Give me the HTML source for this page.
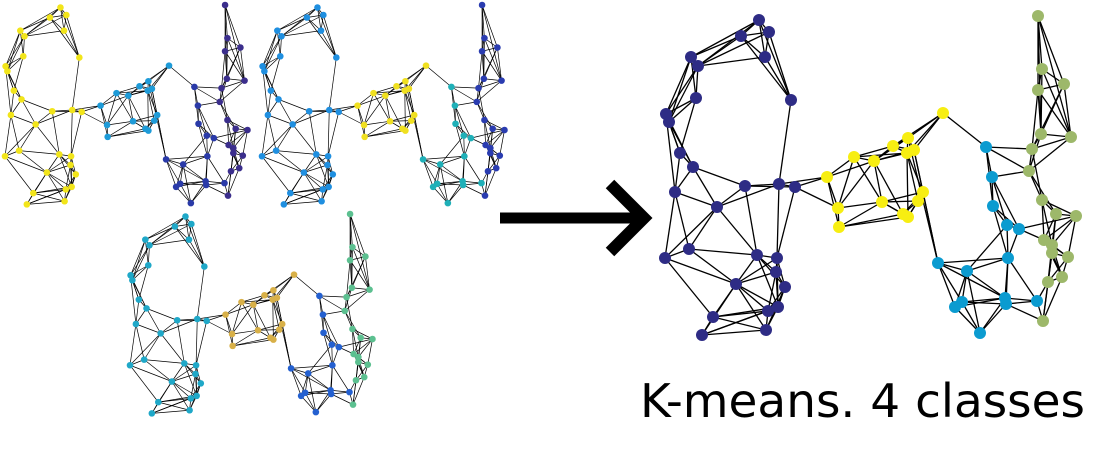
<!DOCTYPE html>
<html><head><meta charset="utf-8"><style>
html,body{margin:0;padding:0;background:#fff;width:1100px;height:450px;overflow:hidden}
</style></head><body>
<svg id="chart" width="1100" height="450" viewBox="0 0 1100 450" xmlns="http://www.w3.org/2000/svg">
<g id="edges-layer"></g><g id="nodes-layer"></g>
<g>
<line x1="500" y1="218" x2="640" y2="218" stroke="#000" stroke-width="11"/>
<polyline points="610,184 644,218 610,252" fill="none" stroke="#000" stroke-width="12"/>
</g>
<text x="640" y="417" font-family="DejaVu Sans, Liberation Sans, sans-serif" font-size="46" textLength="445" lengthAdjust="spacingAndGlyphs">K-means. 4 classes</text>
</svg>
<script>
// node layout (x, y in layout units) and cluster label
const nodeX=[759,769,741,691,698,765,696,791,666,669,680,693,675,717,745,779,795,665,689,757,777,776,785,736,713,768,778,702,766,
827,854,874,893,908,907,914,943,838,839,882,903,908,923,918,
986,992,993,1007,1019,1008,938,967,962,955,1005,1006,1037,980,
1038,1042,1064,1038,1041,1071,1032,1029,1042,1056,1076,1044,1052,1052,1068,1062,1048,1043];
const nodeY=[20,32,36,57,66,57,98,100,114,122,153,167,192,207,186,184,187,258,249,255,258,272,287,284,317,311,307,335,330,
177,157,161,146,138,153,150,113,208,227,202,214,217,192,201,
147,177,206,225,229,258,263,271,302,307,298,304,301,333,
16,69,84,90,134,137,149,171,200,214,216,240,245,253,257,277,282,321];
const nodeClass=[0,0,0,0,0,0,0,0,0,0,0,0,0,0,0,0,0,0,0,0,0,0,0,0,0,0,0,0,0,
1,1,1,1,1,1,1,1,1,1,1,1,1,1,1,
2,2,2,2,2,2,2,2,2,2,2,2,2,2,
3,3,3,3,3,3,3,3,3,3,3,3,3,3,3,3,3,3];
const extraEdges=[[16,29],[36,44],[36,32],[36,33],[33,50],[35,50],[42,50],[65,45],[68,48],[60,58],[61,58],[58,62],[3,2],[4,6],[5,7],[8,12],[14,15],[15,16]];
// palette per panel indexed by cluster
const panelPalettes=[
 ["#2e2c85","#f7ee12","#0b9bd0","#9db86a"],
 ["#f2e51a","#1e9bd8","#2a3aa8","#3b2e8c"],
 ["#1f8fe0","#f0e020","#1fb0b8","#2a3cb0"],
 ["#1fa8c8","#d8b048","#2460d0","#5cc090"]];
const panels=[{ox:665,oy:16,sx:1,sy:1,ax:665,ay:16,r:6,w:1.3},
 {ox:5,oy:5,sx:0.59,sy:0.625,ax:665,ay:16,r:3.3,w:0.7},
 {ox:262,oy:5,sx:0.59,sy:0.625,ax:665,ay:16,r:3.3,w:0.7},
 {ox:130,oy:214,sx:0.59,sy:0.625,ax:665,ay:16,r:3.3,w:0.7}];
const panelOrder=[0,1,2,3];

const NS="http://www.w3.org/2000/svg";
const E=document.getElementById('edges-layer'),N=document.getElementById('nodes-layer');
// edges: k nearest neighbours
const n=nodeX.length,edges=[];const seen=new Set();
function add(a,b){const k=a<b?a+'-'+b:b+'-'+a;if(!seen.has(k)){seen.add(k);edges.push([a,b]);}}
for(let i=0;i<n;i++){const d=[];for(let j=0;j<n;j++)if(j!==i)d.push([Math.hypot(nodeX[i]-nodeX[j],nodeY[i]-nodeY[j])+(nodeClass[i]===nodeClass[j]?0:25),j]);
 d.sort((a,b)=>a[0]-b[0]);for(let k=0;k<5;k++)add(i,d[k][1]);}
extraEdges.forEach(e=>add(e[0],e[1]));
panelOrder.forEach(p=>{const P=panels[p];const pal=panelPalettes[p];
 const xs=v=>P.ox+(v-P.ax)*P.sx, ys=v=>P.oy+(v-P.ay)*P.sy;
 edges.forEach(([a,b])=>{const l=document.createElementNS(NS,'line');
  
  
  l.setAttribute('x1',xs(nodeX[a]));l.setAttribute('y1',ys(nodeY[a]));l.setAttribute('x2',xs(nodeX[b]));l.setAttribute('y2',ys(nodeY[b]));
  l.setAttribute('stroke','#000');l.setAttribute('stroke-width',P.w);E.appendChild(l);});
 for(let i=0;i<n;i++){const c=document.createElementNS(NS,'circle');
  
  
  c.setAttribute('cx',xs(nodeX[i]));c.setAttribute('cy',ys(nodeY[i]));c.setAttribute('r',P.r);c.setAttribute('fill',pal[nodeClass[i]]);N.appendChild(c);}
});
</script>
</body></html>
